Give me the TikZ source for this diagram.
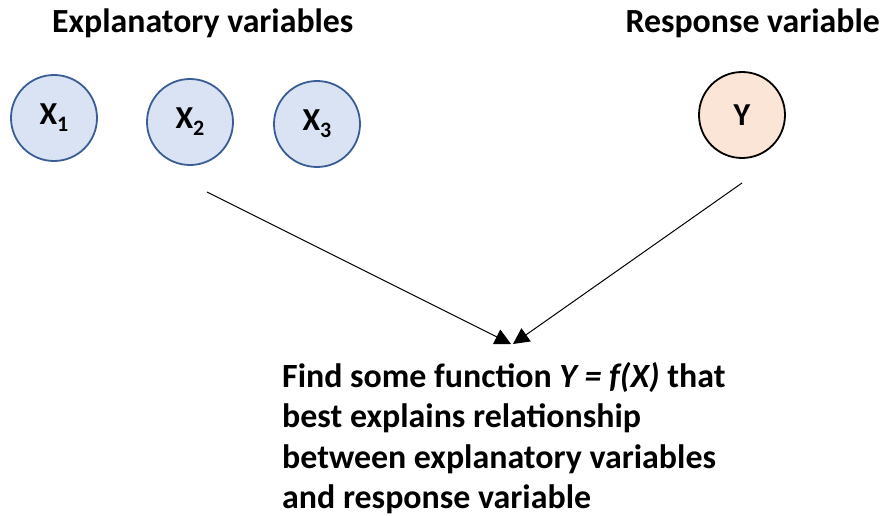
\documentclass[tikz,border=0pt]{standalone}
\usepackage{fontspec}
\setmainfont{Carlito}
\usetikzlibrary{arrows.meta}
\definecolor{xfill}{HTML}{DAE3F3}
\definecolor{xdraw}{HTML}{3A5D96}
\definecolor{yfill}{HTML}{FBE5D6}
\newcommand{\mysub}[1]{\raisebox{-7pt}{\fontsize{22}{22}\selectfont #1}}
\tikzset{
  xvar/.style={circle, draw=xdraw, fill=xfill, line width=1.8pt, minimum size=86pt, inner sep=0pt, font=\bfseries\fontsize{32}{32}\selectfont},
  yvar/.style={circle, draw=black, fill=yfill, line width=1.8pt, minimum size=86pt, inner sep=0pt, font=\bfseries\fontsize{32}{32}\selectfont},
  head/.style={font=\bfseries\fontsize{33.8}{34}\selectfont, inner sep=0pt},
  conn/.style={line width=1pt, -{Triangle[length=16pt,width=16pt]}}
}
\begin{document}
\begin{tikzpicture}[x=1pt,y=-1pt]
\useasboundingbox (0,0) rectangle (883,516);
\node[head, anchor=base west] (hx) at (52,33) {Explanatory variables};
\node[head, anchor=base east] (hy) at (880,33) {Response variable};
\node[xvar] (x1) at (54,118) {X\mysub{1}};
\node[xvar] (x2) at (190,122) {X\mysub{2}};
\node[xvar] (x3) at (317,124) {X\mysub{3}};
\node[yvar] (y) at (742,115) {Y};
\coordinate (s1) at (207,192);
\coordinate (s2) at (742,183);
\coordinate (t1) at (511,344);
\coordinate (t2) at (513,344);
\draw[conn] (s1) -- (t1);
\draw[conn] (s2) -- (t2);
\node[anchor=base west, align=left, inner sep=0pt, font=\bfseries\fontsize{33.9}{40.5}\selectfont] (txt) at (282,508.5)
 {Find some function \textit{Y = f(X)} that\\best explains relationship\\between explanatory variables\\and response variable};
\end{tikzpicture}
\end{document}
